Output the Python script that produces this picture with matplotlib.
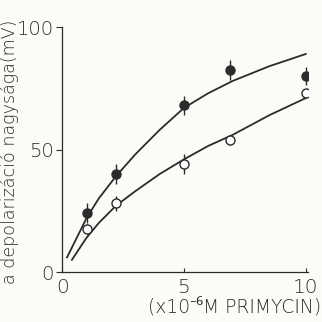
import matplotlib
matplotlib.use("Agg")
import matplotlib.pyplot as plt

# measured points (x in 1e-6 M primycin, y in mV)
dose = [1.0, 2.2, 5.0, 6.9, 10.0]
filled_mv = [24, 40, 68, 82.5, 80]
filled_err = [4, 4, 4, 4, 3.5]
open_mv = [17.5, 28, 44, 54, 73]
open_err = [2, 3, 4, 2, 1.5]

# fitted curves
upper_x = [0.2, 0.5, 1.0, 1.5, 2.2, 3.0, 4.0, 5.0, 6.0, 7.0, 8.5, 10.0]
upper_y = [6, 12, 22, 30, 39, 48, 58, 67, 73, 78, 84, 89]
lower_x = [0.4, 1.0, 1.5, 2.2, 3.0, 4.0, 5.0, 6.0, 7.0, 8.5, 10.0]
lower_y = [5, 14, 20, 27, 33, 40, 46, 51.5, 56, 64, 71]

ink = "#2b2b2b"
plt.rcParams["font.family"] = ["DejaVu Sans", "Noto Sans"]

fig = plt.figure(figsize=(3.22, 3.22), dpi=100, facecolor="#fbfbf8")
ax = fig.add_axes([0.193, 0.155, 0.764, 0.761])
ax.set_facecolor("#fbfbf8")

ax.plot(upper_x, upper_y, color=ink, lw=1.3)
ax.plot(lower_x, lower_y, color=ink, lw=1.3)

ax.errorbar(dose, filled_mv, yerr=filled_err, fmt="o", color=ink, ms=6.5,
            mfc=ink, mec=ink, elinewidth=1.0, capsize=0)
ax.errorbar(dose, open_mv, yerr=open_err, fmt="o", color=ink, ms=6.5,
            mfc="white", mec=ink, mew=1.0, elinewidth=1.0, capsize=0)

ax.set_xlim(0, 10.1)
ax.set_ylim(0, 100)
ax.set_xticks([0, 5, 10])
ax.set_yticks([0, 50, 100])
for side in ("top", "right"):
    ax.spines[side].set_visible(False)
for side in ("left", "bottom"):
    ax.spines[side].set_color(ink)
    ax.spines[side].set_linewidth(0.9)
ax.tick_params(axis="y", direction="out", length=4, colors=ink, labelsize=14, pad=2)
ax.tick_params(axis="x", direction="in", length=3, colors=ink, labelsize=14.5, pad=4)
for lab in ax.get_xticklabels() + ax.get_yticklabels():
    lab.set_fontweight("light")

fig.text(0.031, 0.53, "a depolarizáció nagysága(mV)", rotation=90, ha="center",
         va="center", fontsize=12.6, color=ink, fontweight="light")
fig.text(0.998, 0.045, "(x10⁻⁶M PRIMYCIN)", ha="right", va="center",
         fontsize=13.5, color=ink, fontweight="light")

fig.savefig("out.png", dpi=100, facecolor=fig.get_facecolor())
